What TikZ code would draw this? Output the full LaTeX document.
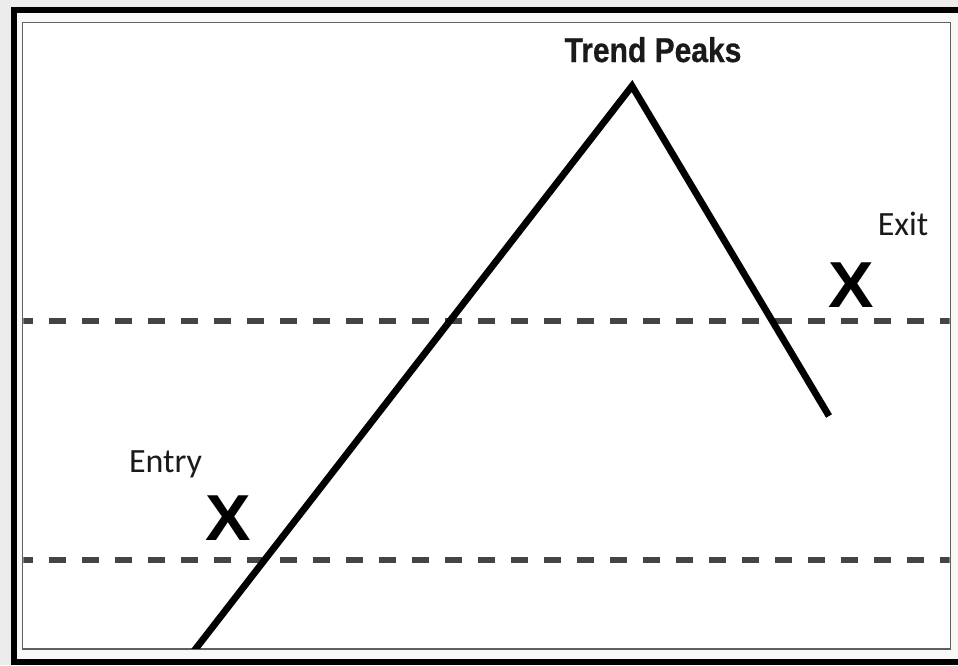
\documentclass[tikz,border=0pt]{standalone}
\usepackage{fontspec}
\setmainfont{Carlito}
\newfontfamily\trendfont[FakeStretch=0.87,FakeBold=0.6]{Liberation Sans}
\newfontfamily\xfont[FakeStretch=1.05]{Liberation Sans}
\definecolor{bggray}{HTML}{ECECEC}
\definecolor{panel}{HTML}{F8F8F8}
\definecolor{borderg}{HTML}{606060}
\definecolor{dashg}{HTML}{444444}
\definecolor{ink}{HTML}{1A1A1A}
\tikzset{
  lbl/.style={inner sep=0pt, anchor=base, text=ink, font=\fontsize{34}{40}\selectfont},
  bigx/.style={inner sep=0pt, anchor=base, text=black, font=\xfont\bfseries\fontsize{65}{70}\selectfont},
  peaklbl/.style={inner sep=0pt, anchor=base, text=ink, font=\trendfont\bfseries\fontsize{34.5}{38}\selectfont},
  level/.style={draw=dashg, line width=6.5pt, dash pattern=on 17pt off 16pt, dash phase=6pt},
  trend/.style={draw=black, line width=6.8pt, line join=miter, line cap=butt}
}
\begin{document}
\begin{tikzpicture}[x=1pt, y=-1pt]
\useasboundingbox (0,0) rectangle (958,665);
\fill[bggray] (0,0) rectangle (958,665);
\fill[panel] (14,10) rectangle (958,662);
\draw[black, line width=6pt, line join=miter] (975,10) -- (14,10) -- (14,662) -- (975,662);
\filldraw[fill=white, draw=borderg, line width=1.6pt] (22.5,22.5) rectangle (950.5,649);
\begin{scope}
\clip (23.3,23.3) rectangle (949.7,648.2);
\coordinate (l1a) at (22,321);
\coordinate (l1b) at (951,321);
\coordinate (l2a) at (22,560);
\coordinate (l2b) at (951,560);
\draw[level] (l1a) -- (l1b);
\draw[level] (l2a) -- (l2b);
\coordinate (start) at (194,651);
\coordinate (peak) at (632,86);
\coordinate (finish) at (829,416);
\draw[trend] (start) -- (peak) -- (finish);
\end{scope}
\node[peaklbl] (peaktxt) at (653,62) {Trend Peaks};
\node[lbl] (exittxt) at (903,235) {Exit};
\node[lbl] (entrytxt) at (165.5,472) {Entry};
\node[bigx] (exitx) at (851,307) {X};
\node[bigx] (entryx) at (228.5,540) {X};
\end{tikzpicture}
\end{document}
